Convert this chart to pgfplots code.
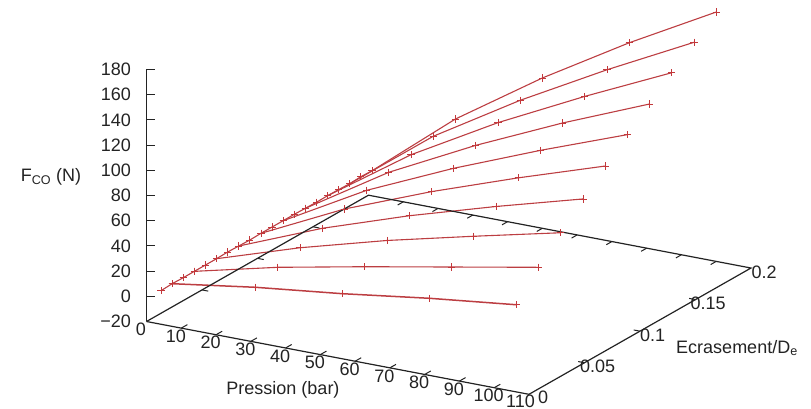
\documentclass[border=0pt]{standalone}
\usepackage{fontspec}
\setmainfont{Liberation Sans}
\usepackage{pgfplots}
\pgfplotsset{compat=1.18}
\definecolor{serie}{RGB}{188,62,66}
\definecolor{axe}{RGB}{35,35,35}
\pgfplotsset{ligne/.style={color=serie,line width=1.1pt,mark=+,mark size=3.6pt,mark options={color=serie!90!red,line width=0.9pt}}}
\begin{document}
\begin{tikzpicture}[x=1pt,y=1pt,font=\fontsize{18}{20}\selectfont]
\path[use as bounding box] (0,0) rectangle (811,409);
\begin{axis}[
  at={(146.5pt,112.7pt)},anchor=origin,
  x={(3.477pt,-0.662pt)},y={(1110pt,631.5pt)},z={(0pt,1.26pt)},
  xmin=0,xmax=110,ymin=0,ymax=0.2,zmin=-20,zmax=180,
  clip=false,
  axis x line=bottom,axis y line=none,axis z line=left,
  axis line style={axe,line width=1.2pt,-},
  major tick length=0pt,
  xtick={0,10,...,110},
  xticklabels={0,10,20,30,40,50,60,70,80,90,100,\raisebox{1.5pt}{\hspace{-6pt}110}},
  ztick={-20,0,...,180},
  zticklabels={−20,0,20,40,60,80,100,120,140,160,180},
  xticklabel style={anchor=center,xshift=-5.5pt,yshift=-8pt,inner sep=0pt,text=axe},
  zticklabel style={anchor=east,xshift=-15.5pt,inner sep=0pt,text=axe},
  tick label style={font=\fontsize{18}{20}\selectfont},
]
\addplot3[ligne] coordinates {(1,0.01,0.0)(1,0.02,0.5)(1,0.03,0.25)(1,0.04,0.3)(1,0.05,0.3)(1,0.06,0.3)(1,0.07,0.6)(1,0.08,0.35)(1,0.09,0.1)(1,0.10,0.4)(1,0.11,0.37)(1,0.12,0.38)(1,0.13,0.44)(1,0.14,0.2)(1,0.15,0.0)(1,0.16,0.17)(1,0.17,0.0)(1,0.18,-0.3)(1,0.19,0.2)(1,0.20,-0.1)};
\addplot3[ligne,line width=1.5pt] coordinates {(1,0.02,0.5)(25,0.02,10.25)(50,0.02,18.3)(75,0.02,27.8)(100,0.02,35.8)};
\addplot3[ligne] coordinates {(1,0.04,0.3)(25,0.04,16.1)(50,0.04,29.7)(75,0.04,42.6)(100,0.04,55.5)};
\addplot3[ligne] coordinates {(1,0.06,0.3)(25,0.06,21.6)(50,0.06,40.5)(75,0.06,57.0)(100,0.06,72.9)};
\addplot3[ligne] coordinates {(1,0.08,0.35)(25,0.08,27.0)(50,0.08,50.1)(75,0.08,70.6)(100,0.08,89.7)};
\addplot3[ligne] coordinates {(1,0.10,0.4)(25,0.10,32.3)(50,0.10,59.2)(75,0.10,83.3)(100,0.10,105.8)};
\addplot3[ligne] coordinates {(1,0.12,0.38)(25,0.12,37.1)(50,0.12,67.7)(75,0.12,95.1)(100,0.12,120.7)};
\addplot3[ligne] coordinates {(1,0.14,0.2)(25,0.14,41.4)(50,0.14,75.9)(75,0.14,106.8)(100,0.14,135.0)};
\addplot3[ligne] coordinates {(1,0.16,0.17)(25,0.16,45.3)(50,0.16,83.9)(75,0.16,117.9)(100,0.16,149.8)};
\addplot3[ligne] coordinates {(1,0.18,-0.3)(25,0.18,49.9)(50,0.18,91.6)(75,0.18,129.0)(100,0.18,163.9)};
\addplot3[ligne] coordinates {(1,0.20,-0.1)(25,0.20,53.6)(50,0.20,99.3)(75,0.20,140.4)(100,0.20,177.9)};
% floor edges not given by the axis lines
\draw[axe,line width=1.2pt] (axis cs:0,0,-20) -- (axis cs:0,0.2,-20) -- (axis cs:110,0.2,-20) -- (axis cs:110,0,-20);
% ticks, in the floor's directions
\pgfplotsinvokeforeach{10,20,...,100}{%
  \draw[axe,line width=1pt] (axis cs:#1,0.2,-20) -- (axis cs:#1,0.195,-20);
  \draw[axe,line width=1pt] (axis cs:#1,0,-20) -- (axis cs:#1,0.0055,-20);}
\pgfplotsinvokeforeach{0.05,0.1,0.15}{%
  \draw[axe,line width=1pt] (axis cs:0,#1,-20) -- (axis cs:1.8,#1,-20);
  \draw[axe,line width=1pt] (axis cs:110,#1,-20) -- (axis cs:108.2,#1,-20);}
\pgfplotsinvokeforeach{0,20,...,180}{%
  \draw[axe,line width=1pt] (axis cs:0,0,#1) -- ++(8pt,0pt);}
% tick labels of the depth axis
\node[text=axe,inner sep=0pt,anchor=west] at ([xshift=9pt,yshift=-3pt]axis cs:110,0,-20) {0};
\node[text=axe,inner sep=0pt,anchor=west] at ([xshift=-4.5pt,yshift=-4pt]axis cs:110,0.05,-20) {0.05};
\node[text=axe,inner sep=0pt,anchor=west] at ([xshift=0pt,yshift=-4pt]axis cs:110,0.1,-20) {0.1};
\node[text=axe,inner sep=0pt,anchor=west] at ([xshift=-5pt,yshift=-4pt]axis cs:110,0.15,-20) {0.15};
\node[text=axe,inner sep=0pt,anchor=west] at ([xshift=0.5pt,yshift=-4pt]axis cs:110,0.2,-20) {0.2};
\end{axis}
\node[text=axe,inner sep=0pt] at (283,19) {Pression (bar)};
\node[text=axe,inner sep=0pt] at (737,61) {Ecrasement/D\textsubscript{e}};
\node[text=axe,inner sep=0pt] at (51,232) {F\textsubscript{CO} (N)};
\end{tikzpicture}
\end{document}
